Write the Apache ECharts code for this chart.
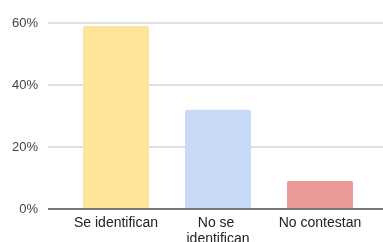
<!DOCTYPE html>
<html lang="es">
<head>
    <meta charset="UTF-8">
    <title>Identificación</title>
    <style>
        html, body { margin: 0; padding: 0; background: #fff; }
        #chart { width: 383px; height: 242px; }
    </style>
</head>
<body>
    <div id="chart"></div>
    <script src="https://cdn.jsdelivr.net/npm/echarts@6/dist/echarts.min.js"></script>
    <script type="text/javascript">
        var categories = ['Se identifican', 'No se identifican', 'No contestan'];
        var values = [59, 32, 9];
        var colors = ['#ffe599', '#c9daf8', '#ea9999'];
        var yTicks = [0, 20, 40, 60];

        var myChart = echarts.init(document.getElementById('chart'));
        var font = 'Liberation Sans, Arial, sans-serif';

        myChart.setOption({
            animation: false,
            grid: [
                // gridlines + y labels, full width
                { left: 48, right: 0, top: 23, bottom: 33, outerBoundsMode: 'none' },
                // bars
                { left: 65, width: 306, top: 23, bottom: 33, outerBoundsMode: 'none' }
            ],
            xAxis: [{
                gridIndex: 0,
                type: 'value',
                min: 0, max: 1,
                axisLine: { show: false },
                axisTick: { show: false },
                axisLabel: { show: false },
                splitLine: { show: false }
            }, {
                gridIndex: 1,
                type: 'category',
                data: categories,
                axisLine: { show: false },
                axisTick: { show: false },
                axisLabel: {
                    interval: 0,
                    color: '#222',
                    fontFamily: font,
                    fontSize: 14,
                    margin: 6,
                    width: 96,
                    overflow: 'break',
                    lineHeight: 16
                }
            }],
            yAxis: [{
                gridIndex: 0,
                type: 'value',
                min: yTicks[0],
                max: yTicks[yTicks.length - 1],
                interval: 20,
                axisLine: { show: false },
                axisTick: { show: false },
                axisLabel: {
                    color: '#444',
                    fontFamily: font,
                    fontSize: 13,
                    margin: 10,
                    formatter: '{value}%'
                },
                splitLine: { lineStyle: { color: '#e0e0e0', width: 2 } }
            }, {
                gridIndex: 1,
                type: 'value',
                min: yTicks[0],
                max: yTicks[yTicks.length - 1],
                interval: 20,
                show: false,
                splitLine: { show: false }
            }],
            series: [{
                type: 'bar',
                xAxisIndex: 1,
                yAxisIndex: 1,
                barWidth: 66,
                z: 3,
                data: values.map(function (v, i) {
                    return { value: v, itemStyle: { color: colors[i], borderRadius: [2, 2, 0, 0] } };
                })
            }, {
                // baseline along 0%
                type: 'line',
                xAxisIndex: 0,
                yAxisIndex: 0,
                data: [[0, 0], [1, 0]],
                symbol: 'none',
                lineStyle: { color: '#777', width: 2 },
                z: 4,
                silent: true
            }]
        });
    </script>
</body>
</html>
